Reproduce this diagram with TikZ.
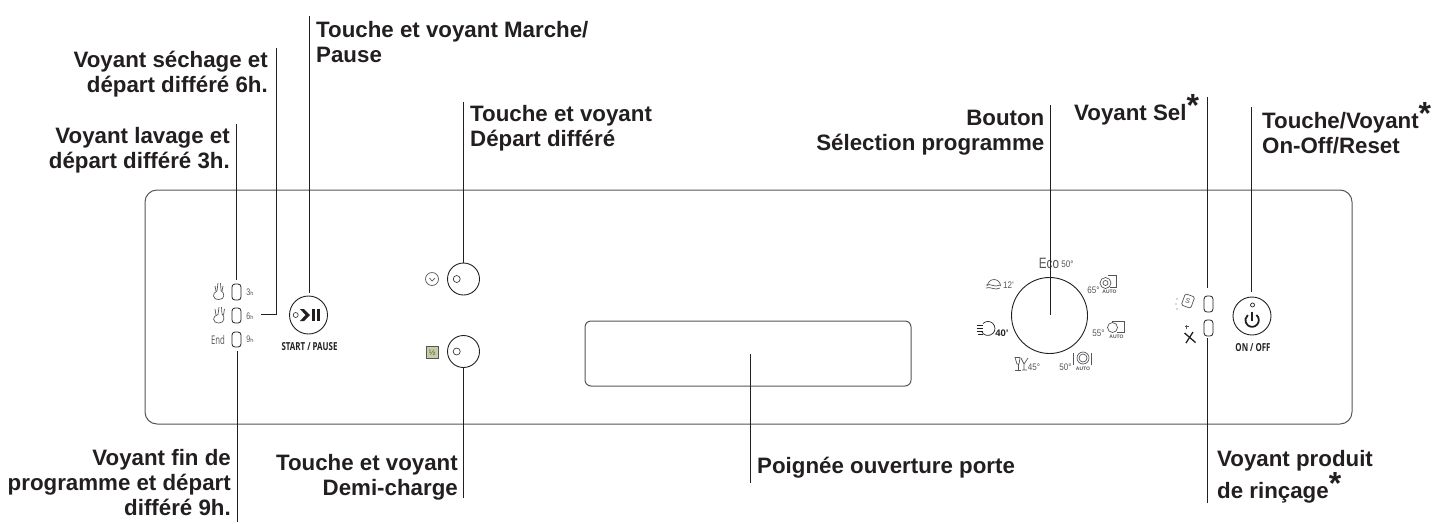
\documentclass[tikz,border=0pt]{standalone}
\usepackage{fontspec}
\setmainfont{Liberation Sans}
\newfontfamily\cond{Open Sans}
\definecolor{ink}{HTML}{231F20}
\definecolor{soft}{HTML}{55565A}
\definecolor{olive}{HTML}{C9CBA3}
\tikzset{
  lbl/.style={font=\fontsize{22.3}{25}\selectfont\bfseries,text=ink,inner sep=0pt,align=left,anchor=base west},
  lblr/.style={font=\fontsize{22.3}{25}\selectfont\bfseries,text=ink,inner sep=0pt,align=right,anchor=base east},
  lead/.style={draw=ink,line width=1pt},
  panel/.style={draw=soft,line width=1pt},
  led/.style={draw=ink,line width=0.8pt,rounded corners=3pt},
  keyc/.style={circle,draw=ink,line width=0.9pt,inner sep=0pt},
  tiny/.style={font=\fontsize{9.5}{10}\selectfont,text=soft,inner sep=0pt},
  icon/.style={draw=soft,line width=0.7pt},
  capt/.style={font=\fontsize{11}{11}\selectfont\cond\bfseries,text=ink,inner sep=0pt},
  autotxt/.style={font=\fontsize{5}{5}\selectfont\bfseries,text=soft,inner sep=0pt}
}
\newcommand{\LED}[3]{\draw[led] (#1-4.5,#2) rectangle (#1+4.5,#3);}
\begin{document}
\begin{tikzpicture}[x=1pt,y=-1pt]
\useasboundingbox (0,0) rectangle (1437,523);
% panel
\draw[panel,rounded corners=12pt] (145,190) rectangle (1352,424);
\draw[panel,rounded corners=6pt] (585,321) rectangle (911,386);
% LEDs left
\LED{236.5}{284}{300}
\LED{236.5}{308}{323}
\LED{236.5}{332}{347}
% LEDs right
\LED{1208.5}{296}{312}
\LED{1208.5}{320}{336}
% keys
\node[keyc,minimum size=38pt] (start) at (308.5,315) {};
\node[keyc,minimum size=32pt] (delay) at (463.5,279) {};
\node[keyc,minimum size=32pt] (half) at (463.5,351.5) {};
\node[keyc,minimum size=76pt] (dial) at (1049.5,315.5) {};
\node[keyc,minimum size=38pt] (onoff) at (1252,316) {};
% small circles
\draw[ink,line width=.6pt] (295.7,315) circle (2.5);
\draw[ink,line width=.6pt] (456.7,279) circle (3.5);
\draw[ink,line width=.6pt] (456.7,351.5) circle (3.5);
% start symbol
\fill[ink] (300,309) -- (304,309) -- (310,315) -- (304,321) -- (300,321) -- (305.5,315) -- cycle;
\fill[ink] (312.2,309) rectangle (315,321);
\fill[ink] (316.8,309) rectangle (319.6,321);
% on/off symbol
\draw[ink,line width=0.7pt] (1252.5,305) circle (2);
\draw[ink,line width=1.8pt] (1256.4,315) arc[start angle=-50,end angle=230,radius=6.7];
\draw[ink,line width=1.8pt] (1252.2,311.5) -- (1252.2,320.5);
% captions
\node[capt] (cstart) at (309.5,347) {\scalebox{.72}[1]{START / PAUSE}};
\node[capt] (conoff) at (1253,347.5) {\scalebox{.72}[1]{ON / OFF}};
% left hand icons
\draw[icon] (218,283) -- (217,291) .. controls (212,293) and (212,299.5) .. (219,299.5) .. controls (225,299.5) and (225,293) .. (221,290.5) -- (220.5,283);
\draw[icon] (215,286) -- (216,291) (223,286) -- (222,291);
\draw[icon] (219,307) -- (218,314.5) .. controls (212,316) and (212,323) .. (219,323) .. controls (225,323) and (225,316) .. (222,314) -- (221.5,307);
\draw[icon] (215,309) -- (216,315) (224.5,309) -- (223.5,315);
\node[font=\fontsize{12}{12}\selectfont\cond,text=soft,inner sep=0pt] (endt) at (218,339.5) {\scalebox{.65}[1]{End}};
\node[tiny] (t3) at (250,292) {\scalebox{.75}[1]{3}\scalebox{.6}{h}};
\node[tiny] (t6) at (250,316) {\scalebox{.75}[1]{6}\scalebox{.6}{h}};
\node[tiny] (t9) at (250,339.5) {\scalebox{.75}[1]{9}\scalebox{.6}{h}};
% delay icon
\draw[icon] (432,279) circle (6.5);
\draw[icon] (429.5,278) -- (432,281) -- (435,278);
% half icon
\draw[icon,fill=olive] (426.5,346.5) rectangle (438,358);
\node[font=\fontsize{8}{8}\selectfont,text=soft,inner sep=0pt] (halft) at (432.2,352.3) {½};
% right icons
\draw[icon,rotate around={-20:(1188,301)},rounded corners=1.5pt] (1183,295) rectangle (1193,307);
\node[font=\fontsize{7}{7}\selectfont,text=soft,inner sep=0pt,rotate=-20] (salt) at (1188,301) {S};
\fill[soft] (1177,299) circle (.6) (1176,304) circle (.6) (1177,309) circle (.6);
\draw[ink,line width=1.3pt] (1186,343) -- (1193,332);
\draw[ink,line width=1.3pt] (1184.5,333) -- (1195.5,342.5);
\draw[soft,line width=.6pt] (1184.5,326.7) -- (1189,326.7) (1186.7,324.5) -- (1186.7,329);
% dial labels
\node[font=\fontsize{15}{15}\selectfont,text=soft,inner sep=0pt] (eco) at (1049,263) {\scalebox{.78}[1]{Eco}};
\node[font=\fontsize{9.5}{10}\selectfont,text=soft,inner sep=0pt] (e50) at (1067.5,264.5) {\scalebox{.85}[1]{50°}};
% 12'
\draw[icon] (987.5,286) arc[start angle=180,end angle=360,radius=6.5];
\draw[icon] (986,285) .. controls (990,283) and (995,288) .. (1000,285);
\draw[icon] (986,288) .. controls (990,286) and (995,291) .. (1000,288);
\node[tiny] (d12) at (1008.5,285) {\scalebox{.85}[1]{12'}};
% 40'
\draw[ink,line width=.7pt] (983,323.5) arc[start angle=-135,end angle=150,radius=7];
\draw[ink,line width=.7pt] (976.5,325.5) -- (983,325.5) (976.5,328.5) -- (983,328.5) (976.5,331.5) -- (983,331.5) (978,334.5) -- (983,334.5);
\node[font=\fontsize{9.5}{10}\selectfont\bfseries,text=ink,inner sep=0pt] (d40) at (1002,333) {40'};
% 45
\draw[icon] (1015,357.5) -- (1020,357.5) -- (1019,364) -- (1017,364) -- cycle;
\draw[icon] (1018,364) -- (1018,370) (1015,370) -- (1021,370);
\draw[icon] (1021,358) -- (1024,364) -- (1024,370) (1022,370) -- (1027,370);
\draw[icon] (1024,364) -- (1028,358);
\node[tiny] (d45) at (1034,367.5) {\scalebox{.85}[1]{45°}};
% 50
\node[tiny] (d50) at (1065.5,367.5) {\scalebox{.85}[1]{50°}};
\draw[icon] (1083,358) circle (6);
\draw[icon] (1083,358) circle (4);
\draw[icon] (1073.5,353) -- (1073.5,365) (1091,353) -- (1091,365);
\node[autotxt] (a1) at (1083,368.5) {AUTO};
% 55
\node[tiny] (d55) at (1098.5,333.5) {\scalebox{.85}[1]{55°}};
\draw[icon] (1112.5,327.5) circle (5);
\draw[icon] (1112,321.5) -- (1124,321.5) -- (1124,332) -- (1117,332);
\node[autotxt] (a2) at (1116.5,337) {AUTO};
% 65
\node[tiny] (d65) at (1093.5,290.5) {\scalebox{.85}[1]{65°}};
\draw[icon] (1105.5,283) circle (5.5);
\draw[icon] (1105.5,283) circle (2.5);
\draw[icon] (1108,275.5) -- (1116,275.5) -- (1116,287) -- (1110,287);
\node[autotxt] (a3) at (1109.5,291.5) {AUTO};
% free ends
\coordinate (l1) at (236.5,124);
\coordinate (l1b) at (236.5,280);
\coordinate (l2) at (276.5,48);
\coordinate (l2b) at (276.5,314);
\coordinate (l2c) at (261,314);
\coordinate (l3) at (309.5,16);
\coordinate (l3b) at (309.5,293);
\coordinate (l4a) at (237.5,351);
\coordinate (l4b) at (237.5,522);
\coordinate (l5) at (463.5,102);
\coordinate (l6) at (463.5,498);
\coordinate (l7) at (750.5,354);
\coordinate (l7b) at (750.5,483);
\coordinate (l8) at (1050.5,105);
\coordinate (l8b) at (1050.5,315);
\coordinate (l9) at (1207.5,97);
\coordinate (l9b) at (1207.5,288);
\coordinate (l10) at (1207.5,338);
\coordinate (l10b) at (1207.5,503);
\coordinate (l11) at (1251,107);
\coordinate (l11b) at (1251,292);
% leaders
\draw[lead] (l1) -- (l1b);
\draw[lead] (l2) -- (l2b) -- (l2c);
\draw[lead] (l3) -- (l3b);
\draw[lead] (l4a) -- (l4b);
\draw[lead] (l5) -- (delay.north);
\draw[lead] (half.south) -- (l6);
\draw[lead] (l7) -- (l7b);
\draw[lead] (l8) -- (l8b);
\draw[lead] (l9) -- (l9b);
\draw[lead] (l10) -- (l10b);
\draw[lead] (l11) -- (l11b);
% labels (coordinates give the last baseline)
\newcommand{\stella}{\raisebox{3.5pt}{\fontsize{32}{32}\selectfont\bfseries *}}
\node[lblr] (a) at (268,92) {Voyant séchage et\\départ différé 6h.};
\node[lblr] (b) at (230,168) {Voyant lavage et\\départ différé 3h.};
\node[lblr] (c) at (231,515) {Voyant fin de\\programme et départ\\différé 9h.};
\node[lbl] (d) at (316,62) {Touche et voyant Marche/\\Pause};
\node[lbl] (e) at (470,146) {Touche et voyant\\Départ différé};
\node[lblr] (f) at (1044.5,150) {Bouton\\Sélection programme};
\node[lbl] (g) at (1074,120) {Voyant Sel\stella};
\node[lbl] (h) at (1262,153) {Touche/Voyant\stella\\On-Off/Reset};
\node[lblr] (i) at (458,495) {Touche et voyant\\Demi-charge};
\node[lbl] (j) at (757,473) {Poignée ouverture porte};
\node[lbl,font=\fontsize{22.3}{32}\selectfont\bfseries] (k) at (1217,498) {Voyant produit\\de rinçage\stella};
\end{tikzpicture}
\end{document}
